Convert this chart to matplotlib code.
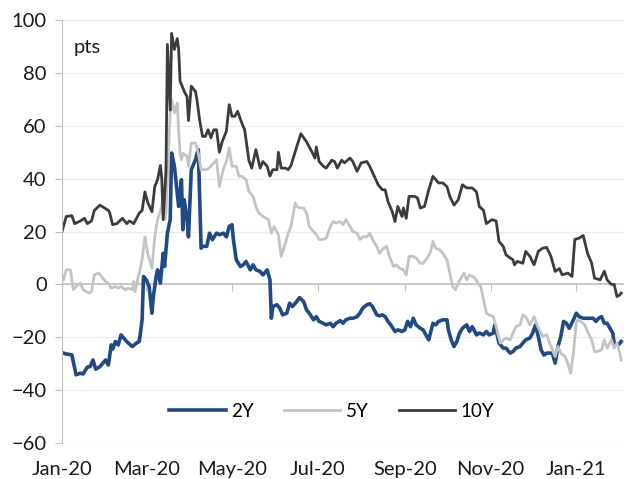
import numpy as np
import pandas as pd
import matplotlib
matplotlib.use("Agg")
import matplotlib.pyplot as plt
import matplotlib.dates as mdates
from matplotlib.ticker import NullFormatter

plt.rcParams["font.family"] = ["Lato", "DejaVu Sans"]

# days since 1 Jan 2020, values in pts
BASE = pd.Timestamp("2020-01-01")

days_2y = [0, 3, 7, 10, 13, 15, 18, 20, 22, 24, 27, 31, 33, 35, 36, 38, 40, 42, 46, 50,
           53, 55, 57, 58, 60, 62, 64, 65, 67, 68, 70, 72, 73, 75, 77, 78, 80, 82, 83, 85,
           86, 87, 89, 90, 92, 93, 95, 97, 99, 100, 103, 105, 107, 110, 112, 115, 117, 119,
           121, 122, 124, 127, 129, 131, 134, 136, 138, 141, 143, 146, 148, 149, 150, 153,
           155, 157, 160, 162, 164, 167, 169, 172, 174, 176, 179, 181, 183, 186, 188, 191,
           193, 195, 198, 200, 202, 205, 207, 210, 212, 214, 217, 219, 221, 224, 226, 228,
           230, 232, 234, 237, 239, 242, 244, 246, 248, 250, 252, 255, 257, 259, 261, 264,
           266, 268, 271, 274, 275, 277, 279, 281, 283, 285, 288, 290, 292, 295, 297, 300,
           302, 304, 307, 308, 310, 311, 314, 316, 319, 321, 323, 326, 328, 330, 333, 335,
           337, 339, 341, 343, 345, 347, 349, 351, 353, 355, 357, 359, 361, 364, 366, 368,
           371, 373, 375, 378, 380, 382, 384, 386, 388, 390, 392, 393, 396, 398]
vals_2y = [-25.8, -26.3, -26.7, -34.2, -33.6, -33.9, -31.3, -31.1, -28.6, -32.1, -31.1, -28.6,
           -30.5, -22.9, -24.5, -21.6, -22.9, -19.1, -21.6, -23.5, -22.2, -21.6, -13.4, 3.0,
           1.7, -0.8, -10.9, -4.6, 3.0, 5.5, 0.5, 11.8, 6.8, 19.4, 24.5, 49.7, 44.7, 34.6,
           29.5, 39.6, 20.7, 32.0, 24.5, 18.0, 43.4, 44.7, 47.2, 51.0, 13.7, 14.4, 14.4, 19.4,
           16.9, 19.4, 18.8, 19.4, 18.0, 21.9, 22.6, 16.9, 9.3, 6.8, 7.4, 8.7, 5.5, 7.4, 5.5,
           4.9, 3.6, 5.5, 1.7, -12.8, -8.4, -7.7, -9.0, -11.5, -10.9, -7.1, -8.4, -6.5, -5.0,
           -6.5, -9.6, -10.9, -13.4, -12.2, -14.0, -14.7, -15.3, -14.7, -16.0, -14.7, -13.7,
           -14.7, -13.4, -12.8, -12.8, -12.2, -10.9, -9.0, -7.7, -7.3, -8.4, -11.5, -11.9,
           -11.5, -12.2, -14.0, -15.3, -17.8, -17.2, -17.8, -17.2, -14.0, -16.0, -12.8, -15.3,
           -16.6, -17.2, -19.1, -21.0, -14.7, -15.3, -14.0, -13.4, -13.4, -17.2, -21.0, -23.5,
           -21.6, -18.4, -16.6, -15.3, -17.8, -16.0, -19.1, -18.4, -19.1, -17.8, -19.1, -18.4,
           -15.3, -19.7, -22.2, -24.1, -24.1, -26.0, -25.4, -24.1, -23.5, -22.2, -21.0, -20.3,
           -18.4, -15.3, -19.7, -24.8, -26.7, -26.0, -26.0, -26.0, -29.8, -23.5, -19.7, -14.0,
           -14.7, -16.6, -13.4, -10.9, -12.2, -12.8, -12.8, -12.8, -12.8, -14.0, -12.8, -12.2,
           -14.7, -14.7, -16.6, -18.4, -22.2, -22.9, -21.6]

days_5y = [1, 3, 6, 8, 10, 13, 15, 19, 21, 23, 26, 28, 31, 33, 35, 38, 40, 42, 45, 47, 50,
           51, 52, 54, 55, 57, 59, 61, 64, 66, 68, 71, 72, 73, 74, 76, 77, 78, 80, 82, 83, 84,
           85, 86, 89, 90, 92, 95, 97, 99, 103, 106, 110, 112, 115, 117, 119, 121, 124, 126,
           128, 131, 133, 136, 138, 140, 143, 145, 147, 149, 151, 154, 156, 159, 161, 163,
           166, 167, 169, 172, 174, 176, 179, 181, 183, 186, 188, 191, 193, 195, 198, 200,
           202, 205, 207, 210, 212, 214, 217, 219, 221, 224, 226, 228, 231, 233, 236, 238,
           240, 243, 245, 247, 250, 252, 255, 257, 259, 262, 264, 266, 269, 271, 274, 276,
           278, 280, 282, 284, 286, 288, 290, 294, 296, 298, 300, 302, 304, 307, 309, 310,
           312, 314, 316, 319, 321, 323, 326, 328, 330, 333, 336, 338, 341, 342, 345, 347,
           351, 353, 355, 358, 360, 362, 364, 366, 367, 369, 372, 374, 377, 379, 381, 384,
           386, 388, 391, 393, 395, 397, 398]
vals_5y = [1.7, 5.5, 5.5, -2.0, -0.8, 0.5, -2.0, -3.3, -2.7, 3.6, 4.3, 3.0, 1.1, 0.5, -1.4,
           -0.8, -1.4, -0.8, -2.0, -1.4, -2.0, 1.1, -2.7, 2.4, 4.3, 9.3, 18.0, 11.8, 6.2, 18.0,
           24.5, 29.5, 34.6, 24.5, 27.0, 53.5, 64.9, 70.0, 64.9, 68.7, 58.5, 49.7, 47.2, 49.7,
           48.4, 44.7, 53.5, 53.5, 49.7, 43.4, 43.4, 44.7, 47.2, 37.0, 44.0, 46.5, 51.6, 44.7,
           44.7, 40.9, 40.9, 39.6, 35.2, 33.3, 29.5, 27.0, 25.7, 25.1, 24.5, 19.4, 21.9, 18.8,
           10.6, 15.6, 19.4, 21.9, 30.8, 29.5, 29.0, 28.9, 27.0, 21.9, 20.0, 18.8, 17.0, 17.0,
           17.5, 21.9, 23.8, 23.2, 23.8, 22.6, 24.5, 21.9, 20.0, 19.4, 17.0, 18.0, 18.0, 19.4,
           17.0, 14.4, 11.8, 13.3, 14.4, 10.6, 6.8, 7.4, 6.2, 5.5, 3.6, 10.6, 10.6, 10.0, 8.0,
           8.0, 9.3, 11.8, 16.3, 13.7, 13.0, 11.8, 9.3, 4.3, -0.8, -2.0, 0.5, 2.4, 4.3, 1.7,
           3.6, 2.4, 0.5, -0.8, -5.8, -10.9, -11.5, -12.2, -16.0, -18.4, -22.2, -21.0, -20.3,
           -21.0, -18.4, -16.0, -15.3, -11.5, -12.2, -15.3, -12.2, -15.3, -18.4, -19.7, -19.0,
           -22.2, -27.3, -23.5, -26.0, -27.3, -29.8, -33.6, -26.0, -14.7, -13.4, -14.0, -15.3,
           -17.8, -21.0, -25.4, -25.4, -24.8, -21.0, -24.1, -21.0, -24.1, -22.2, -26.0, -28.6]

days_10y = [0, 3, 7, 9, 13, 16, 18, 21, 23, 27, 30, 33, 34, 36, 39, 43, 46, 48, 51, 53, 55,
            57, 59, 61, 64, 66, 68, 70, 71, 72, 74, 75, 77, 78, 80, 82, 83, 84, 87, 89, 90,
            92, 95, 96, 98, 100, 102, 104, 106, 108, 110, 112, 114, 117, 119, 121, 123, 125,
            128, 130, 133, 135, 138, 141, 143, 146, 148, 150, 153, 154, 156, 159, 161, 163,
            167, 170, 174, 178, 180, 181, 183, 186, 188, 192, 194, 196, 199, 201, 205, 207,
            210, 213, 217, 219, 223, 225, 228, 230, 232, 235, 237, 239, 242, 243, 245, 247,
            251, 253, 255, 258, 261, 264, 268, 271, 274, 276, 279, 282, 284, 285, 288, 292,
            295, 297, 300, 302, 306, 309, 311, 314, 316, 319, 321, 322, 324, 328, 330, 333,
            336, 339, 342, 345, 348, 351, 354, 356, 360, 363, 365, 368, 371, 374, 377, 379,
            383, 386, 388, 391, 393, 395, 397, 398]
vals_10y = [20.0, 25.7, 26.0, 23.0, 24.0, 25.0, 23.0, 24.0, 28.0, 30.0, 29.0, 28.0, 27.0,
            22.6, 23.0, 25.0, 23.0, 24.0, 23.0, 25.0, 27.0, 28.0, 35.0, 31.0, 27.5, 37.0,
            39.6, 45.0, 40.0, 24.5, 43.0, 90.8, 66.0, 95.0, 88.9, 93.0, 89.0, 77.0, 73.0,
            71.0, 62.0, 75.0, 73.0, 70.0, 62.0, 56.0, 56.0, 58.5, 55.5, 58.5, 58.5, 50.0,
            54.0, 58.0, 68.0, 63.6, 63.6, 65.5, 61.0, 58.5, 47.0, 44.0, 51.0, 44.0, 46.5,
            44.7, 41.0, 43.4, 43.4, 50.0, 44.0, 44.0, 43.4, 45.0, 52.0, 57.0, 54.0, 50.0,
            47.8, 52.0, 46.5, 44.7, 44.0, 47.0, 46.5, 44.0, 47.0, 46.0, 47.8, 46.5, 42.8,
            46.0, 46.5, 44.7, 40.0, 37.7, 35.8, 35.8, 31.4, 27.6, 23.8, 29.5, 25.7, 28.9,
            25.0, 33.3, 33.3, 32.7, 28.9, 29.5, 35.8, 40.9, 38.4, 38.4, 37.0, 33.3, 30.0,
            32.0, 35.8, 37.7, 36.5, 36.5, 35.0, 29.5, 28.0, 23.0, 24.5, 24.0, 16.3, 14.4,
            11.2, 10.0, 9.3, 7.4, 8.7, 8.0, 12.5, 10.6, 7.4, 12.5, 13.7, 14.0, 10.6, 4.9,
            6.0, 3.6, 4.3, 3.0, 17.0, 17.5, 18.5, 11.8, 8.0, 2.4, 1.7, 5.0, 1.7, 0.0, 0.0,
            -4.6, -4.0, -3.3]

series = [("2Y", days_2y, vals_2y, "#1f4a86", 2.6),
          ("5Y", days_5y, vals_5y, "#c3c3c3", 2.0),
          ("10Y", days_10y, vals_10y, "#3c3c3c", 2.0)]

fig = plt.figure(figsize=(6.24, 4.79), dpi=100)
ax = fig.add_axes([0.0994, 0.0752, 0.9006, 0.8828])

for name, d, v, col, lw in series:
    dates = BASE + pd.to_timedelta(d, unit="D")
    ax.plot(dates, v, color=col, lw=lw, label=name, solid_joinstyle="round")

ax.set_ylim(-60, 100)
ax.set_yticks(np.arange(-60, 101, 20))
ax.set_xlim(BASE, pd.Timestamp("2021-02-04"))
ticks = pd.date_range("2020-01-01", "2021-01-01", freq="2MS")
ax.set_xticks(ticks)
ax.xaxis.set_major_formatter(mdates.DateFormatter("%b-%y"))

ax.grid(axis="y", color="#ececec", lw=0.8)
ax.set_axisbelow(True)
for s in ["top", "right", "bottom"]:
    ax.spines[s].set_visible(False)
ax.spines["left"].set_color("#bfbfbf")
ax.tick_params(axis="y", length=5, color="#bfbfbf", labelsize=14.5, pad=6,
               labelcolor="#1a1a1a")
ax.tick_params(axis="x", length=0, labelsize=14.5, pad=13, labelcolor="#1a1a1a")

# zero line with month ticks (no labels)
ax.axhline(0, color="#bfbfbf", lw=1.2, zorder=1)
sec = ax.secondary_xaxis(60 / 160)
sec.set_xticks(ticks)
sec.xaxis.set_major_formatter(NullFormatter())
sec.tick_params(axis="x", length=5, color="#bfbfbf", direction="out")
sec.spines["bottom"].set_visible(False)
sec.spines["top"].set_visible(False)

ax.text(0.02, 0.936, "pts", transform=ax.transAxes, fontsize=14.5, va="center",
        color="#1a1a1a")

ax.legend(loc="lower center", bbox_to_anchor=(0.48, 0.015), ncol=3, frameon=False,
          fontsize=13.5, handlelength=3.0, handletextpad=0.3, columnspacing=1.6)

fig.savefig("out.png", dpi=100)
